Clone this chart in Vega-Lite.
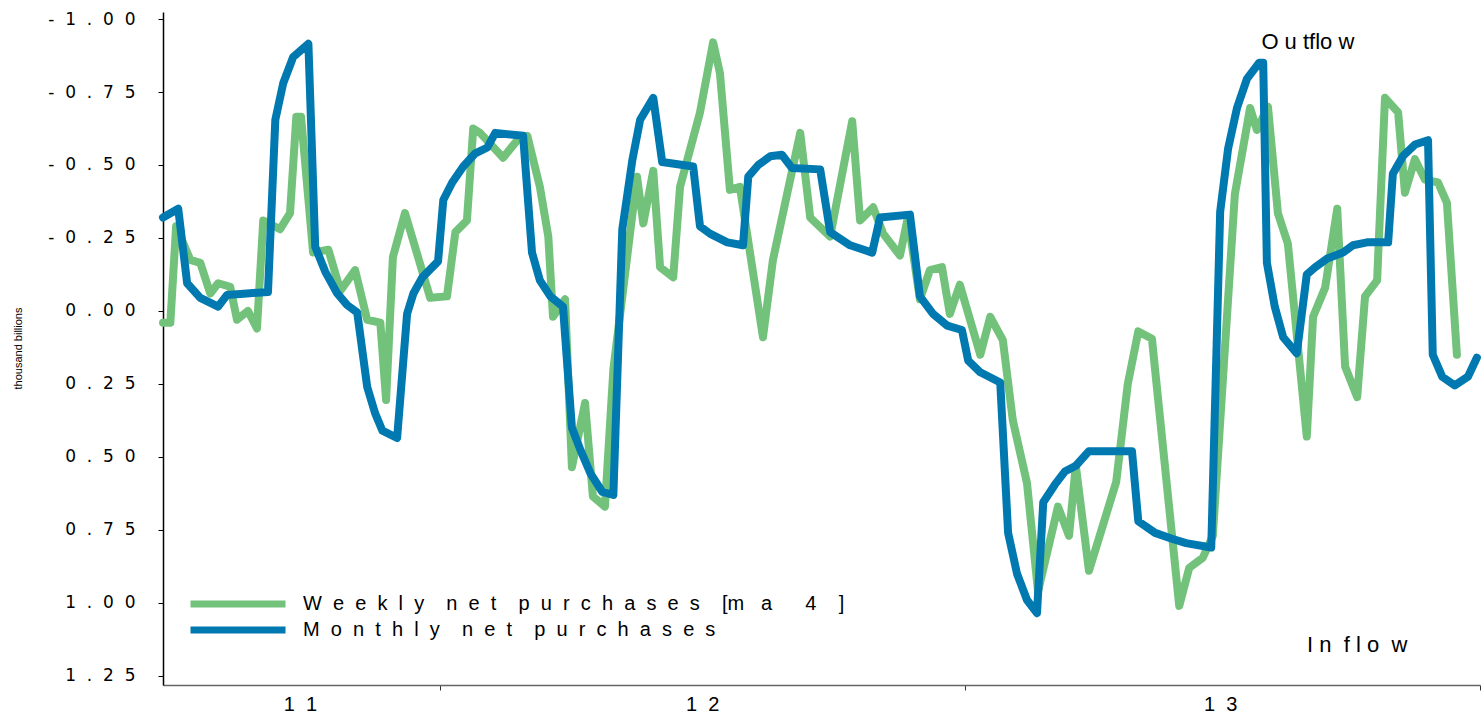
{
  "$schema": "https://vega.github.io/schema/vega-lite/v6.json",
  "width": 1317,
  "height": 673,
  "autosize": "none",
  "padding": {"left": 163, "top": 12, "right": 1, "bottom": 30},
  "background": "white",
  "config": {"view": {"stroke": null}},
  "datasets": {
    "weekly": [
      {"t":2011.472,"v":0.04},{"t":2011.486,"v":0.04},{"t":2011.497,"v":-0.29},{"t":2011.524,"v":-0.175},{"t":2011.543,"v":-0.165},{"t":2011.562,"v":-0.06},{"t":2011.577,"v":-0.095},{"t":2011.600,"v":-0.083},{"t":2011.613,"v":0.03},{"t":2011.634,"v":0.0},{"t":2011.651,"v":0.06},{"t":2011.663,"v":-0.31},{"t":2011.695,"v":-0.28},{"t":2011.714,"v":-0.335},{"t":2011.726,"v":-0.665},{"t":2011.735,"v":-0.665},{"t":2011.758,"v":-0.2},{"t":2011.787,"v":-0.21},{"t":2011.810,"v":-0.07},{"t":2011.838,"v":-0.14},{"t":2011.861,"v":0.03},{"t":2011.886,"v":0.04},{"t":2011.897,"v":0.305},{"t":2011.910,"v":-0.185},{"t":2011.933,"v":-0.335},{"t":2011.981,"v":-0.045},{"t":2012.013,"v":-0.05},{"t":2012.029,"v":-0.27},{"t":2012.051,"v":-0.31},{"t":2012.063,"v":-0.625},{"t":2012.076,"v":-0.61},{"t":2012.120,"v":-0.525},{"t":2012.147,"v":-0.585},{"t":2012.166,"v":-0.6},{"t":2012.190,"v":-0.425},{"t":2012.206,"v":-0.255},{"t":2012.215,"v":0.02},{"t":2012.238,"v":-0.04},{"t":2012.251,"v":0.535},{"t":2012.276,"v":0.315},{"t":2012.291,"v":0.635},{"t":2012.314,"v":0.67},{"t":2012.330,"v":0.2},{"t":2012.375,"v":-0.46},{"t":2012.387,"v":-0.3},{"t":2012.406,"v":-0.48},{"t":2012.419,"v":-0.15},{"t":2012.444,"v":-0.115},{"t":2012.457,"v":-0.425},{"t":2012.495,"v":-0.68},{"t":2012.520,"v":-0.92},{"t":2012.533,"v":-0.815},{"t":2012.552,"v":-0.415},{"t":2012.571,"v":-0.425},{"t":2012.615,"v":0.09},{"t":2012.634,"v":-0.175},{"t":2012.686,"v":-0.61},{"t":2012.705,"v":-0.32},{"t":2012.743,"v":-0.255},{"t":2012.785,"v":-0.65},{"t":2012.800,"v":-0.31},{"t":2012.825,"v":-0.355},{"t":2012.844,"v":-0.265},{"t":2012.876,"v":-0.19},{"t":2012.891,"v":-0.32},{"t":2012.914,"v":-0.04},{"t":2012.933,"v":-0.14},{"t":2012.956,"v":-0.15},{"t":2012.971,"v":0.01},{"t":2012.990,"v":-0.09},{"t":2013.029,"v":0.15},{"t":2013.048,"v":0.02},{"t":2013.072,"v":0.1},{"t":2013.091,"v":0.375},{"t":2013.118,"v":0.59},{"t":2013.139,"v":0.96},{"t":2013.177,"v":0.67},{"t":2013.198,"v":0.77},{"t":2013.211,"v":0.53},{"t":2013.236,"v":0.89},{"t":2013.265,"v":0.72},{"t":2013.288,"v":0.585},{"t":2013.310,"v":0.25},{"t":2013.330,"v":0.07},{"t":2013.356,"v":0.095},{"t":2013.408,"v":1.01},{"t":2013.427,"v":0.88},{"t":2013.453,"v":0.845},{"t":2013.472,"v":0.77},{"t":2013.514,"v":-0.4},{"t":2013.543,"v":-0.695},{"t":2013.556,"v":-0.62},{"t":2013.577,"v":-0.7},{"t":2013.596,"v":-0.335},{"t":2013.615,"v":-0.23},{"t":2013.651,"v":0.43},{"t":2013.663,"v":0.02},{"t":2013.686,"v":-0.08},{"t":2013.709,"v":-0.35},{"t":2013.724,"v":0.19},{"t":2013.747,"v":0.295},{"t":2013.762,"v":-0.05},{"t":2013.785,"v":-0.105},{"t":2013.800,"v":-0.73},{"t":2013.825,"v":-0.68},{"t":2013.838,"v":-0.405},{"t":2013.857,"v":-0.52},{"t":2013.876,"v":-0.45},{"t":2013.901,"v":-0.44},{"t":2013.918,"v":-0.37},{"t":2013.937,"v":0.15}
    ],
    "monthly": [
      {"t":2011.472,"v":-0.32},{"t":2011.501,"v":-0.35},{"t":2011.518,"v":-0.095},{"t":2011.543,"v":-0.045},{"t":2011.577,"v":-0.015},{"t":2011.594,"v":-0.055},{"t":2011.632,"v":-0.06},{"t":2011.672,"v":-0.065},{"t":2011.686,"v":-0.655},{"t":2011.701,"v":-0.78},{"t":2011.720,"v":-0.87},{"t":2011.749,"v":-0.915},{"t":2011.762,"v":-0.22},{"t":2011.781,"v":-0.135},{"t":2011.804,"v":-0.06},{"t":2011.823,"v":-0.02},{"t":2011.842,"v":0.005},{"t":2011.861,"v":0.26},{"t":2011.876,"v":0.35},{"t":2011.890,"v":0.41},{"t":2011.918,"v":0.435},{"t":2011.937,"v":0.01},{"t":2011.949,"v":-0.06},{"t":2011.966,"v":-0.115},{"t":2011.996,"v":-0.17},{"t":2012.006,"v":-0.38},{"t":2012.023,"v":-0.44},{"t":2012.044,"v":-0.495},{"t":2012.067,"v":-0.54},{"t":2012.090,"v":-0.56},{"t":2012.105,"v":-0.61},{"t":2012.158,"v":-0.6},{"t":2012.175,"v":-0.2},{"t":2012.190,"v":-0.105},{"t":2012.210,"v":-0.05},{"t":2012.234,"v":-0.015},{"t":2012.251,"v":0.4},{"t":2012.267,"v":0.475},{"t":2012.286,"v":0.555},{"t":2012.309,"v":0.62},{"t":2012.330,"v":0.63},{"t":2012.347,"v":-0.28},{"t":2012.366,"v":-0.515},{"t":2012.381,"v":-0.655},{"t":2012.406,"v":-0.73},{"t":2012.423,"v":-0.51},{"t":2012.482,"v":-0.495},{"t":2012.495,"v":-0.29},{"t":2012.514,"v":-0.265},{"t":2012.547,"v":-0.235},{"t":2012.577,"v":-0.225},{"t":2012.587,"v":-0.46},{"t":2012.606,"v":-0.5},{"t":2012.629,"v":-0.53},{"t":2012.651,"v":-0.535},{"t":2012.670,"v":-0.49},{"t":2012.724,"v":-0.485},{"t":2012.743,"v":-0.27},{"t":2012.781,"v":-0.225},{"t":2012.823,"v":-0.2},{"t":2012.838,"v":-0.32},{"t":2012.895,"v":-0.33},{"t":2012.914,"v":-0.05},{"t":2012.939,"v":0.01},{"t":2012.966,"v":0.05},{"t":2012.994,"v":0.065},{"t":2013.006,"v":0.17},{"t":2013.029,"v":0.21},{"t":2013.067,"v":0.245},{"t":2013.082,"v":0.76},{"t":2013.099,"v":0.9},{"t":2013.118,"v":0.99},{"t":2013.137,"v":1.035},{"t":2013.149,"v":0.655},{"t":2013.171,"v":0.595},{"t":2013.190,"v":0.55},{"t":2013.211,"v":0.53},{"t":2013.236,"v":0.48},{"t":2013.318,"v":0.48},{"t":2013.330,"v":0.72},{"t":2013.362,"v":0.76},{"t":2013.394,"v":0.78},{"t":2013.421,"v":0.795},{"t":2013.469,"v":0.81},{"t":2013.486,"v":-0.34},{"t":2013.501,"v":-0.555},{"t":2013.518,"v":-0.695},{"t":2013.537,"v":-0.795},{"t":2013.560,"v":-0.85},{"t":2013.568,"v":-0.85},{"t":2013.575,"v":-0.165},{"t":2013.590,"v":-0.015},{"t":2013.606,"v":0.09},{"t":2013.632,"v":0.145},{"t":2013.651,"v":-0.125},{"t":2013.667,"v":-0.15},{"t":2013.690,"v":-0.18},{"t":2013.720,"v":-0.2},{"t":2013.739,"v":-0.225},{"t":2013.766,"v":-0.235},{"t":2013.806,"v":-0.235},{"t":2013.815,"v":-0.47},{"t":2013.834,"v":-0.53},{"t":2013.857,"v":-0.57},{"t":2013.882,"v":-0.585},{"t":2013.891,"v":0.15},{"t":2013.909,"v":0.225},{"t":2013.933,"v":0.255},{"t":2013.958,"v":0.225},{"t":2013.975,"v":0.16}
    ],
    "notes": [
      {"t":2013.653,"v":-0.921,"label":"O u tflo w"},
      {"t":2013.747,"v":1.144,"label":"I n\u00a0\u00a0f l o\u00a0\u00a0w"}
    ]
  },
  "encoding": {
    "x": {
      "field": "t", "type": "quantitative",
      "scale": {"domain": [2011.472, 2013.981], "nice": false, "zero": false},
      "axis": {
        "title": null, "grid": false,
        "values": [2011.733, 2012, 2012.499, 2013, 2013.486, 2013.981],
        "labelExpr": "datum.value == 2012 || datum.value == 2013 || datum.value > 2013.9 ? '' : datum.value < 2012 ? '1\u00a0\u00a01' : datum.value < 2013 ? '1\u00a0\u00a02' : '1\u00a0\u00a03'",
        "tickOpacity": {"condition": {"test": "datum.value == 2012 || datum.value == 2013 || datum.value > 2013.9", "value": 1}, "value": 0},
        "labelOverlap": false, "labelFlush": false,
        "labelFont": "Liberation Sans", "labelFontSize": 20, "labelColor": "#000",
        "labelPadding": 4, "tickSize": 5, "tickColor": "#333", "domainColor": "#666", "domainWidth": 1.5
      }
    },
    "y": {
      "field": "v", "type": "quantitative",
      "scale": {"domain": [-1.024, 1.281], "reverse": true, "nice": false, "zero": false},
      "axis": {
        "title": "thousand billions", "grid": false,
        "values": [-1, -0.75, -0.5, -0.25, 0, 0.25, 0.5, 0.75, 1, 1.25],
        "labelExpr": "trim(replace((datum.value < 0 ? '-' : '') + format(abs(datum.value), '.2f'), regexp('(.)', 'g'), '$1\u00a0\u00a0'))",
        "labelFont": "DejaVu Sans", "labelFontSize": 17, "labelColor": "#000",
        "labelPadding": 23, "tickSize": 5, "tickColor": "#000", "domainColor": "#000", "domainWidth": 1.5,
        "titleFont": "Liberation Sans", "titleFontSize": 11, "titleFontWeight": "normal", "titleColor": "#000",
        "titleX": -145, "titleY": 336, "titleAlign": "center", "titleBaseline": "middle", "titleAngle": 270
      }
    }
  },
  "layer": [
    {
      "data": {"name": "weekly"},
      "mark": {"type": "line", "strokeWidth": 8, "strokeJoin": "round", "strokeCap": "round"},
      "encoding": {
        "color": {
          "datum": "Weekly net purchases [ma 4]",
          "scale": {"range": ["#72C27B"]},
          "legend": {
            "orient": "none", "legendX": 24, "legendY": 541, "title": null,
            "symbolType": "stroke", "symbolSize": 9025, "symbolStrokeWidth": 7, "padding": 0,
            "labelOffset": 14, "labelFont": "Liberation Sans", "labelFontSize": 20, "labelLimit": 1000, "labelColor": "#000",
            "labelExpr": "'W\u00a0\u00a0e\u00a0\u00a0e\u00a0\u00a0k\u00a0\u00a0l\u00a0\u00a0y\u00a0\u00a0\u00a0\u00a0n\u00a0\u00a0e\u00a0\u00a0t\u00a0\u00a0\u00a0\u00a0p\u00a0\u00a0u\u00a0\u00a0r\u00a0\u00a0c\u00a0\u00a0h\u00a0\u00a0a\u00a0\u00a0s\u00a0\u00a0e\u00a0\u00a0s\u00a0\u00a0\u00a0\u00a0[m\u00a0\u00a0\u00a0a\u00a0\u00a0\u00a0\u00a0\u00a0\u00a04\u00a0\u00a0\u00a0\u00a0]'"
          }
        }
      }
    },
    {
      "data": {"name": "monthly"},
      "mark": {"type": "line", "strokeWidth": 8, "strokeJoin": "round", "strokeCap": "round"},
      "encoding": {
        "color": {
          "datum": "Monthly net purchases",
          "scale": {"range": ["#0079B0"]},
          "legend": {
            "orient": "none", "legendX": 24, "legendY": 567, "title": null,
            "symbolType": "stroke", "symbolSize": 9025, "symbolStrokeWidth": 7, "padding": 0,
            "labelOffset": 14, "labelFont": "Liberation Sans", "labelFontSize": 20, "labelLimit": 1000, "labelColor": "#000",
            "labelExpr": "'M\u00a0\u00a0o\u00a0\u00a0n\u00a0\u00a0t\u00a0\u00a0h\u00a0\u00a0l\u00a0\u00a0y\u00a0\u00a0\u00a0\u00a0n\u00a0\u00a0e\u00a0\u00a0t\u00a0\u00a0\u00a0\u00a0p\u00a0\u00a0u\u00a0\u00a0r\u00a0\u00a0c\u00a0\u00a0h\u00a0\u00a0a\u00a0\u00a0s\u00a0\u00a0e\u00a0\u00a0s'"
          }
        }
      }
    },
    {
      "mark": {"type": "rule", "color": "#FF0000", "strokeWidth": 2, "strokeDash": [16, 10]},
      "encoding": {"y": {"datum": 0}}
    },
    {
      "data": {"name": "notes"},
      "mark": {"type": "text", "font": "Liberation Sans", "fontSize": 22, "color": "#000", "align": "center", "baseline": "middle"},
      "encoding": {"text": {"field": "label"}}
    }
  ],
  "resolve": {"scale": {"color": "independent"}}
}
